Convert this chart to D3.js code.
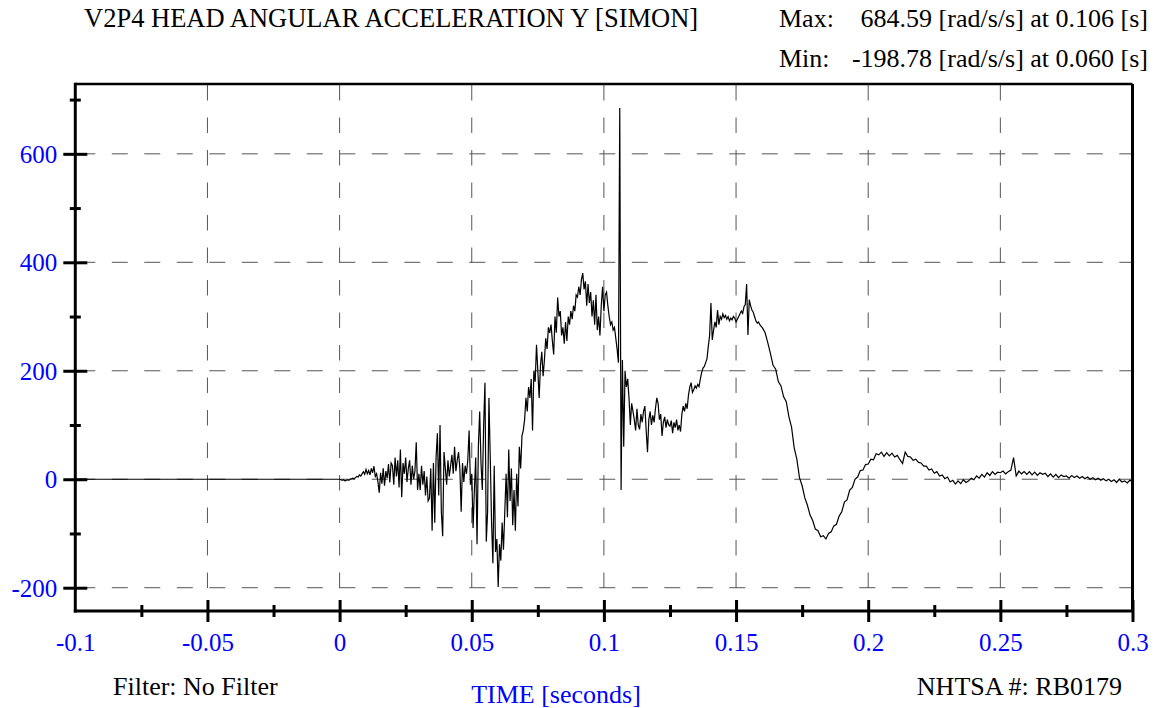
<!DOCTYPE html>
<html><head><meta charset="utf-8">
<script src="https://cdn.jsdelivr.net/npm/d3@7"></script>
<style>
html,body{margin:0;padding:0;background:#fff;}
svg{display:block;font-family:"Liberation Serif","Times New Roman",serif;}
</style></head><body>
<svg id="chart" width="1159" height="708"></svg>
<script>
// ---------- texts ----------
const chartTitle = "V2P4 HEAD ANGULAR ACCELERATION Y [SIMON]";
const maxLabel = "Max:";
const maxText = "684.59 [rad/s/s] at 0.106 [s]";
const minLabel = "Min:";
const minText = "-198.78 [rad/s/s] at 0.060 [s]";
const filterText = "Filter: No Filter";
const xAxisTitle = "TIME [seconds]";
const idText = "NHTSA #: RB0179";

// ---------- ticks ----------
const xDomain = [-0.1, 0.3];
const xTickValues = [-0.1, -0.05, 0, 0.05, 0.1, 0.15, 0.2, 0.25, 0.3];
const xTickLabels = ["-0.1", "-0.05", "0", "0.05", "0.1", "0.15", "0.2", "0.25", "0.3"];
const xMinorTicks = [-0.075, -0.025, 0.025, 0.075, 0.125, 0.175, 0.225, 0.275];
const yTickValues = [-200, 0, 200, 400, 600];
const yTickLabels = ["-200", "0", "200", "400", "600"];
const yMinorTicks = [-100, 100, 300, 500, 700];

// ---------- data (rad/s/s) ----------
const preTimes = [-0.1];
const preValues = [0];

const noisyStart = 0;
const noisyStep = 0.0005;
const noisyValues = [
  0, -1, -2, -1, -3, -2, -1, -2, 0, 1, 2, 1, 3, 5, 4, 8, 6, 10, 14, 9,
  18, 10, 16, 8, 20, 12, 24, 5, 10, -5, -25, 12, -8, 20, -12, 15, 2, 28, -6, 30,
  25, -10, 40, 5, 35, -15, 55, -33, 30, 10, 40, -5, 20, 35, -10, 25, 0, 15, 68, -20,
  10, -20, 25, -10, 15, -30, 5, -40, -35, 20, -95, 30, -80, 40, 85, -30, 100, -60, -105, 50,
  20, -10, 35, 5, 25, 45, 10, 60, 15, 35, 50, 20, -60, 30, -5, 25, 10, 35, 90, -10,
  10, -90, -20, 40, -120, 60, 125, 30, -20, 100, 178, -115, -60, 150, 40, -80, -155, 25, -134, -110,
  -198.78, -120, -150, -80, -130, -60, 10, -70, 55, -40, 20, -85, -20, -95, 10, -50, 60, 20, 80, 90,
  110, 150, 125, 170, 150, 185, 90, 200, 180, 248, 200, 150, 210, 235, 190, 220, 260, 240, 280, 270,
  285, 255, 230, 300, 270, 335, 300, 310, 265, 280, 250, 290, 255, 300, 285, 310, 295, 320, 310, 340,
  336, 355, 340, 368, 380, 350, 365, 320, 360, 325, 345, 300, 330, 285, 340, 275, 300, 265, 320, 355,
  310, 340, 345, 320, 300, 285, 290, 275, 280, 260, 240, 215, 684.59, -20, 220, 60, 200, 170, 185, 150,
  100, 140, 125, 110, 90, 130, 100, 92, 120, 105, 125, 135, 90, 50, 110, 125, 100, 118, 105, 130,
  150, 140, 110, 120, 80, 105, 115, 95, 110, 100, 98, 108, 85, 105, 95, 110, 90, 100, 88, 120,
  135, 125, 140, 130, 155, 170, 178, 160, 165, 172, 168, 175, 171, 185, 197, 205, 208, 215, 222, 245,
  265, 325, 257, 275, 290, 280, 312, 285, 300, 295, 305, 298, 302, 295, 300, 292, 297, 294, 300, 297,
  290, 295, 300, 305, 310, 306, 318, 322, 360, 266, 331, 320, 312, 308, 300, 292, 288, 290, 285, 282
];

const tailStart = 0.16;
const tailStep = 0.001;
const tailValues = [
  279, 270, 252, 232, 210, 203, 180, 172, 152, 143,
  115, 96, 58, 37, 3, -12, -34, -48, -66, -76,
  -92, -95, -106, -104, -110, -100, -97, -86, -83, -68,
  -60, -42, -38, -20, -15, 0, 4, 16, 17, 27,
  28, 37, 36, 47, 45, 50, 42, 49, 43, 48,
  41, 44, 36, 29, 50, 42, 41, 35, 37, 31,
  30, 24, 24, 17, 19, 11, 14, 6, 8, 1,
  4, -5, -2, -9, -3, -8, -1, -6, -3, 2,
  -1, 6, 2, 9, 4, 12, 7, 14, 9, 13,
  12, 15, 10, 14, 17, 40, 6, 15, 10, 14,
  9, 14, 8, 13, 7, 12, 9, 11, 5, 10,
  4, 9, 3, 8, 5, 6, 2, 7, 3, 6,
  2, 5, 1, 4, 0, 3, -1, 2, -2, 1,
  -3, 0, -4, -1, -6, 0, -5, -3, -7, -2,
  -4
];

// ---------- build series ----------
const series = [];
preTimes.forEach((t, i) => series.push({t, v: preValues[i]}));
noisyValues.forEach((v, i) => series.push({t: noisyStart + i * noisyStep, v}));
tailValues.forEach((v, i) => series.push({t: tailStart + i * tailStep, v}));

// ---------- layout ----------
const plotLeft = 75.3, plotRight = 1132.5, plotTop = 84, plotBottom = 611;
const svg = d3.select("#chart");

const x = d3.scaleLinear().domain(xDomain).range([plotLeft, plotRight]);
const [vMin, vMax] = d3.extent(series, d => d.v);
const pad = (vMax - vMin) * 0.05;
const y = d3.scaleLinear().domain([vMin - pad, vMax + pad]).range([plotBottom, plotTop]);

const gridColor = "#555";
// vertical grid
svg.append("g").selectAll("line")
  .data(xTickValues.filter(d => d > xDomain[0] && d < xDomain[1]))
  .join("line")
  .attr("x1", d => x(d)).attr("x2", d => x(d))
  .attr("y1", plotTop + 1).attr("y2", plotBottom)
  .attr("stroke", gridColor).attr("stroke-width", 1)
  .attr("stroke-dasharray", "15.5,17");
// horizontal grid
svg.append("g").selectAll("line")
  .data(yTickValues)
  .join("line")
  .attr("x1", plotLeft).attr("x2", plotRight)
  .attr("y1", d => y(d)).attr("y2", d => y(d))
  .attr("stroke", gridColor).attr("stroke-width", 1)
  .attr("stroke-dasharray", "16,16.5")
  .attr("stroke-dashoffset", 28.5);

// data line
const line = d3.line().x(d => x(d.t)).y(d => y(d.v));
svg.append("path").datum(series)
  .attr("d", line)
  .attr("fill", "none")
  .attr("stroke", "#000")
  .attr("stroke-width", 1.2)
  .attr("stroke-linejoin", "miter");

// frame
const frame = svg.append("g").attr("stroke", "#000");
frame.append("line").attr("x1", plotLeft).attr("x2", plotRight).attr("y1", plotTop).attr("y2", plotTop).attr("stroke-width", 2.5);
frame.append("line").attr("x1", plotRight).attr("x2", plotRight).attr("y1", plotTop).attr("y2", plotBottom).attr("stroke-width", 3);
frame.append("line").attr("x1", plotLeft).attr("x2", plotLeft).attr("y1", plotTop - 1.2).attr("y2", plotBottom + 1.5).attr("stroke-width", 3);
frame.append("line").attr("x1", plotLeft - 1.5).attr("x2", plotRight + 1.5).attr("y1", plotBottom).attr("y2", plotBottom).attr("stroke-width", 3);

// x axis major
const gx = svg.append("g").attr("transform", `translate(0,${plotBottom})`)
  .call(d3.axisBottom(x).tickValues(xTickValues).tickFormat((d, i) => xTickLabels[i]).tickSize(11).tickSizeOuter(0));
gx.select(".domain").remove();
gx.attr("font-family", null).attr("font-size", null);
gx.selectAll(".tick line").attr("y1", -11).attr("stroke", "#000").attr("stroke-width", 3)
  .filter(d => d === xDomain[0]).remove();
gx.selectAll(".tick text").attr("y", 40).attr("dy", null)
  .attr("fill", "#0000ff").style("font-size", "25px");

// x axis minor
const gxm = svg.append("g").attr("transform", `translate(0,${plotBottom})`)
  .call(d3.axisBottom(x).tickValues(xMinorTicks).tickFormat("").tickSize(6).tickSizeOuter(0));
gxm.select(".domain").remove();
gxm.selectAll(".tick line").attr("y1", -6).attr("stroke", "#000").attr("stroke-width", 3);

// y axis major
const gy = svg.append("g").attr("transform", `translate(${plotLeft},0)`)
  .call(d3.axisLeft(y).tickValues(yTickValues).tickFormat((d, i) => yTickLabels[i]).tickSize(12).tickSizeOuter(0));
gy.select(".domain").remove();
gy.attr("font-family", null).attr("font-size", null);
gy.selectAll(".tick line").attr("x1", 12).attr("stroke", "#000").attr("stroke-width", 3);
gy.selectAll(".tick text").attr("x", -18).attr("dy", "0.34em")
  .attr("fill", "#0000ff").style("font-size", "25px");

// y axis minor
const gym = svg.append("g").attr("transform", `translate(${plotLeft},0)`)
  .call(d3.axisLeft(y).tickValues(yMinorTicks).tickFormat("").tickSize(5.5).tickSizeOuter(0));
gym.select(".domain").remove();
gym.selectAll(".tick line").attr("x1", 5.5).attr("stroke", "#000").attr("stroke-width", 3);

// texts
const txt = (s, xx, yy, anchor, color, size) => svg.append("text")
  .attr("x", xx).attr("y", yy).attr("text-anchor", anchor)
  .attr("fill", color || "#000").style("font-size", (size || 26) + "px").text(s);
txt(chartTitle, 84, 27, "start", "#000", 26.5);
txt(maxLabel, 779, 27, "start");
txt(maxText, 1148, 27, "end");
txt(minLabel, 779, 67, "start");
txt(minText, 1148, 67, "end");
txt(filterText, 113, 695, "start");
txt(xAxisTitle, 556, 703, "middle", "#0000ff");
txt(idText, 1122, 695, "end");
</script>
</body></html>
